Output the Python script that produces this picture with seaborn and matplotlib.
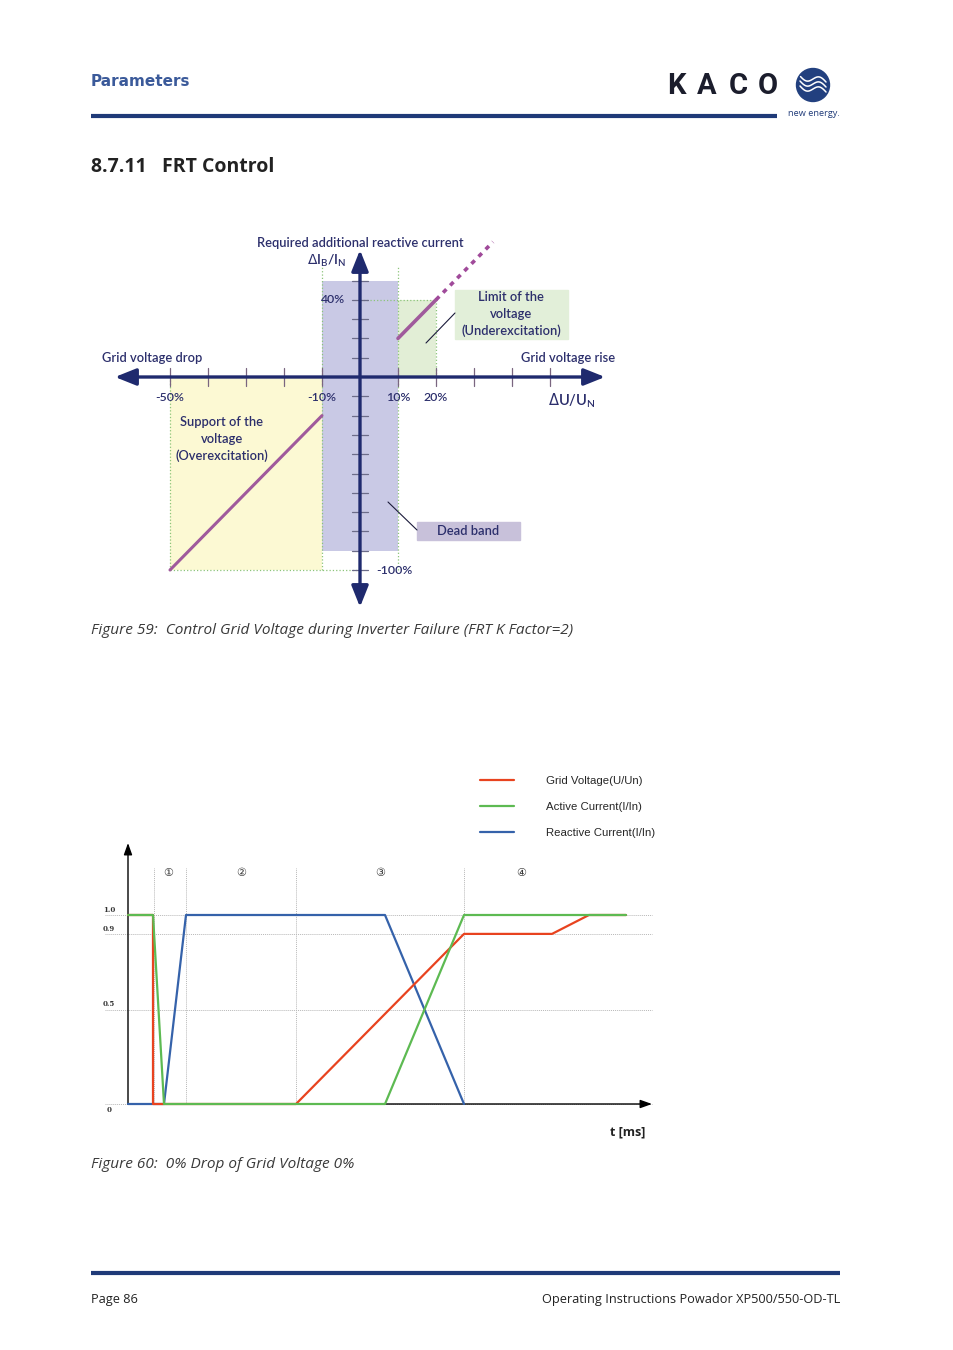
import numpy as np
import matplotlib
matplotlib.use('Agg')
import matplotlib.pyplot as plt
import seaborn as sns
from matplotlib.patches import Rectangle, Circle, FancyArrowPatch

sns.set_theme(style='white')
plt.rcParams['font.family'] = ['Open Sans', 'DejaVu Sans']

# ---------------- Figure 59 data (percent) ----------------
du_ticks = [-50, -40, -30, -20, -10, 10, 20, 30, 40, 50]
du_label_pos = [-50, -10, 10, 20]
du_labels = ['-50%', '-10%', '10%', '20%']
di_ticks = [-100, -90, -80, -70, -60, -50, -40, -30, -20, -10, 10, 20, 30, 40, 50]
over_du = [-50, -10]          # support of the voltage (overexcitation)
over_di = [-100, -20]
under_du = [10, 20]           # limit of the voltage (underexcitation)
under_di = [20, 40]
ext_du = [20, 35]             # dashed extension
ext_di = [40, 70]
deadband_du = [-10, 10]
deadband_di = [-90, 50]
support_du = [-50, -10]
support_di = [-100, 0]
limit_du = [10, 20]
limit_di = [0, 40]

# ---------------- Figure 60 data ----------------
t_voltage = [0, 25, 25, 168, 336, 424, 461, 498]
v_voltage = [1.0, 1.0, 0.0, 0.0, 0.9, 0.9, 1.0, 1.0]
t_active = [0, 25, 36, 257, 336, 498]
v_active = [1.0, 1.0, 0.0, 0.0, 1.0, 1.0]
t_reactive = [0, 36, 58, 257, 336]
v_reactive = [0.0, 0.0, 1.0, 1.0, 0.0]
phase_bounds = [26, 58, 168, 336]
phase_label_t = [40, 113, 252, 393]
phase_labels = ['①', '②', '③', '④']
level_ticks = [1.0, 0.9, 0.5, 0.0]
level_labels = ['1.0', '0.9', '0.5', '0']
series_names = ['Grid Voltage(U/Un)', 'Active Current(I/In)', 'Reactive Current(I/In)']

W, H = 954, 1350
fig = plt.figure(figsize=(W / 100, H / 100), dpi=100)
page = fig.add_axes([0, 0, 1, 1])
page.set_xlim(0, W)
page.set_ylim(H, 0)
page.axis('off')
page.set_zorder(10)

NAVY = '#1f3a78'
TXT = '#2c2f6c'
LATO = ['Lato', 'Open Sans', 'DejaVu Sans']

def px_axes(x0, y0, x1, y1):
    return fig.add_axes([x0 / W, 1 - y1 / H, (x1 - x0) / W, (y1 - y0) / H])

# ---------------- header ----------------
page.text(91, 82, 'Parameters', fontsize=11, fontweight='bold', color='#3b5a9a',
          va='center', ha='left', family=['DejaVu Sans'])
page.plot([91, 777], [116, 116], color=NAVY, lw=3, solid_capstyle='butt')
for ch, xx in zip('KACO', [676, 707, 738, 768]):
    page.text(xx, 86, ch, fontsize=21, fontweight='bold', color='#1b1d2c',
              ha='center', va='center', family=['Roboto', 'DejaVu Sans'])
page.add_patch(Circle((813, 85), 16.5, color='#22407f'))
th = np.linspace(0, 1, 50)
for k, off in enumerate([-6, -1, 4]):
    xs = 800 + 26 * th
    ys = 85 + off + 6 * (th - 0.5) + 3.5 * np.sin(th * 2 * np.pi)
    m = (xs - 813) ** 2 + (ys - 85) ** 2 < 15.5 ** 2
    page.plot(xs[m], ys[m], color='white', lw=1.1)
page.text(814, 114, 'new energy.', fontsize=6.6, color=NAVY, ha='center', va='center')

page.text(91, 167, '8.7.11   FRT Control', fontsize=14, fontweight='bold',
          color='#222222', ha='left', va='center')

# ---------------- Figure 59 ----------------
# px = 360 + 3.8*du ; py = 377 - 1.93*di
ax1 = px_axes(100, 230, 620, 620)
ax1.set_xlim((100 - 360) / 3.8, (620 - 360) / 3.8)
ax1.set_ylim((377 - 620) / 1.93, (377 - 230) / 1.93)
ax1.set_facecolor('none')
ax1.axis('off')

ax1.fill_between(support_du, support_di[0], support_di[1], color='#fcf9d3', lw=0, zorder=1)
ax1.fill_between(limit_du, limit_di[0], limit_di[1], color='#e2eed6', lw=0, zorder=1)
ax1.fill_between(deadband_du, deadband_di[0], deadband_di[1], color='#c9c9e5', lw=0, zorder=1)

gd = dict(color='#8cc47a', lw=0.9, ls=':', zorder=2)
ax1.plot([support_du[0]] * 2, support_di, **gd)
ax1.plot(support_du[:1] + [0], [support_di[0]] * 2, **gd)
for xv in deadband_du:
    ax1.plot([xv, xv], [-100, 57], **gd)
ax1.plot([0, limit_du[1]], [limit_di[1]] * 2, **gd)
ax1.plot([limit_du[1]] * 2, limit_di, **gd)

# ticks
for xv in du_ticks:
    ax1.plot([xv, xv], [-4.8, 4.8], color='#7a6680', lw=0.9, zorder=3)
for yv in di_ticks:
    ax1.plot([-2.2, 2.2], [yv, yv], color='#6c6c88', lw=0.9, zorder=3)

# axes arrows
axc = '#1f2a6e'
ast = '<|-|>,head_length=8,head_width=3.2'
ax1.add_patch(FancyArrowPatch(((115 - 360) / 3.8, 0), ((605 - 360) / 3.8, 0),
                              arrowstyle=ast, color=axc, lw=2.4, mutation_scale=1.6,
                              zorder=4, shrinkA=0, shrinkB=0))
ax1.add_patch(FancyArrowPatch((0, (377 - 607) / 1.93), (0, (377 - 250) / 1.93),
                              arrowstyle=ast, color=axc, lw=2.4, mutation_scale=1.6,
                              zorder=4, shrinkA=0, shrinkB=0))

pc = '#a05a9c'
sns.lineplot(x=over_du, y=over_di, ax=ax1, color=pc, lw=2.2, estimator=None, sort=False, zorder=5)
sns.lineplot(x=under_du, y=under_di, ax=ax1, color=pc, lw=2.6, estimator=None, sort=False, zorder=5)
ax1.plot(ext_du, ext_di, color='#a04a9a', lw=2.6, ls=(0, (1.3, 1.5)), zorder=5)

lab_kw = dict(fontsize=8.8, fontweight='semibold', color=TXT, family=LATO)
for xv, lab in zip(du_label_pos, du_labels):
    ax1.annotate(lab, (xv, 0), xytext=(0, -14.5), textcoords='offset points',
                 ha='center', va='center', **lab_kw)
ax1.annotate('40%', (0, 40), xytext=(-11, 0), textcoords='offset points',
             ha='right', va='center', **lab_kw)
ax1.annotate('-100%', (0, -100), xytext=(11.5, 0), textcoords='offset points',
             ha='left', va='center', **lab_kw)

tk = dict(color=TXT, fontsize=9.3, ha='center', va='center', family=LATO, fontweight='semibold')
page.text(360, 243, 'Required additional reactive current', **tk)
page.text(327, 261, r'$\Delta$I$_\mathregular{B}$/I$_\mathregular{N}$', color=TXT, fontsize=10,
          ha='center', va='center', family=LATO, fontweight='semibold')
page.text(152, 358, 'Grid voltage drop', **tk)
page.text(568, 358, 'Grid voltage rise', **tk)
page.text(572, 401, r'$\Delta$U/U$_\mathregular{N}$', color=TXT, fontsize=10.5, ha='center',
          va='center', family=LATO, fontweight='semibold')
page.text(222, 439, 'Support of the\nvoltage\n(Overexcitation)', linespacing=1.45, **tk)

page.add_patch(Rectangle((455, 290), 113, 49, color='#e2efd9', zorder=1))
page.text(511, 314, 'Limit of the\nvoltage\n(Underexcitation)', linespacing=1.45, **tk)
page.add_patch(Rectangle((417, 522), 103, 18, color='#c8c1da', zorder=1))
page.text(468, 531, 'Dead band', **tk)
page.plot([426, 455], [343, 313], color='#1a1a3a', lw=0.8)
page.plot([388, 417], [502, 530], color='#1a1a3a', lw=0.8)

cap = dict(fontsize=11.1, style='italic', color='#3a3a3a', ha='left', va='center')
page.text(91, 630, 'Figure 59:  Control Grid Voltage during Inverter Failure (FRT K Factor=2)', **cap)

# ---------------- Figure 60 ----------------
# px = 128 + t ; py = 1104 - 189*v
ax2 = px_axes(100, 760, 660, 1145)
ax2.set_xlim(100 - 128, 660 - 128)
ax2.set_ylim((1104 - 1145) / 189, (1104 - 760) / 189)
ax2.set_facecolor('none')
ax2.axis('off')

gr = dict(color='#b8b8b8', lw=0.7, ls=(0, (1, 1)), zorder=1)
for lv in level_ticks:
    ax2.plot([-23, 524], [lv, lv], **gr)
for tb in phase_bounds:
    ax2.plot([tb, tb], [0, 1.249], **gr)
for tt, lab in zip(phase_label_t, phase_labels):
    ax2.text(tt, (1104 - 873) / 189, lab, fontsize=8, ha='center', va='center', color='#333333',
             family=['DejaVu Sans', 'Noto Sans CJK JP'])
for lv, lab in zip(level_ticks, level_labels):
    yoff = 5 if lv > 0 else -6
    ax2.annotate(lab, (-19, lv), xytext=(0, yoff * 0.72), textcoords='offset points',
                 fontsize=5, fontweight='bold', ha='center', va='center', color='#333333',
                 family=['DejaVu Serif'])

ax2.add_patch(FancyArrowPatch((0, 0), (524, 0), arrowstyle='-|>,head_length=7,head_width=2.5',
                              color='black', lw=1.0, mutation_scale=1, zorder=2, shrinkA=0, shrinkB=0))
ax2.add_patch(FancyArrowPatch((0, 0), (0, 1.381), arrowstyle='-|>,head_length=7,head_width=2.5',
                              color='black', lw=1.0, mutation_scale=1, zorder=2, shrinkA=0, shrinkB=0))

RED, GREEN, BLUE = '#e8431f', '#5dba52', '#3562aa'
sns.lineplot(x=t_reactive, y=v_reactive, ax=ax2, color=BLUE, lw=1.6, estimator=None, sort=False,
             label=series_names[2], zorder=3)
sns.lineplot(x=t_voltage, y=v_voltage, ax=ax2, color=RED, lw=1.6, estimator=None, sort=False,
             label=series_names[0], zorder=4)
sns.lineplot(x=t_active, y=v_active, ax=ax2, color=GREEN, lw=1.6, estimator=None, sort=False,
             label=series_names[1], zorder=5)
h, l = ax2.get_legend_handles_labels()
order = [l.index(n) for n in series_names]
ax2.legend([h[i] for i in order], [l[i] for i in order], loc='upper left',
           bbox_to_anchor=((470 - 100) / 560, (1145 - 766) / 385), frameon=False,
           handlelength=3.0, handletextpad=2.8, labelspacing=1.4,
           prop={'family': ['Liberation Sans', 'DejaVu Sans'], 'size': 8.2})

page.text(628, 1132, 't [ms]', fontsize=9, fontweight='bold', color='#222222', ha='center', va='center')
page.text(91, 1165, 'Figure 60:  0% Drop of Grid Voltage 0%', **cap)

# ---------------- footer ----------------
page.plot([91, 840], [1273, 1273], color=NAVY, lw=3, solid_capstyle='butt')
page.text(91, 1300, 'Page 86', fontsize=9.2, color='#222222', ha='left', va='center')
page.text(840, 1300, 'Operating Instructions Powador XP500/550-OD-TL', fontsize=9.2,
          color='#222222', ha='right', va='center')

fig.savefig('out.png', dpi=100)
